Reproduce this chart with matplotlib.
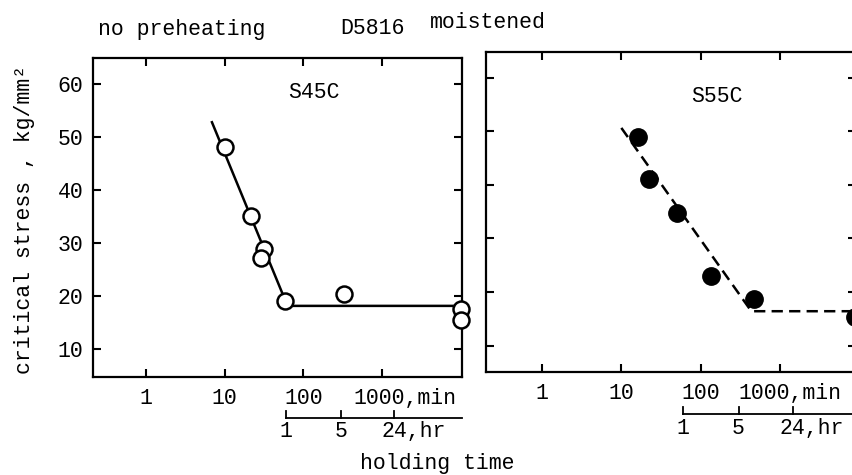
import matplotlib
matplotlib.use("Agg")
import matplotlib.pyplot as plt
from matplotlib.transforms import ScaledTranslation, blended_transform_factory

plt.rcParams['font.family'] = ['Liberation Mono', 'DejaVu Sans Mono']
plt.rcParams['font.size'] = 15.5

# S45C, open circles (holding time in min, stress kg/mm2)
s45_min = [10, 21.5, 32, 29, 58, 330, 10000, 10000]
s45_stress = [48.1, 35.1, 28.9, 27.2, 19.1, 20.4, 17.6, 15.5]
s45_fit_min = [6.9, 63, 7900]
s45_fit_stress = [52.8, 18.2, 18.2]

# S55C, filled circles
s55_min = [16.3, 22, 51, 134, 470, 8900]
s55_stress = [48.9, 41.1, 34.7, 23.0, 18.7, 15.3]
s55_fit_min = [10, 435, 8300]
s55_fit_stress = [50.6, 16.4, 16.4]

min_ticks = [1, 10, 100, 1000]
min_labels = ['1', '10', '100', '1000,min']
hr_ticks = [60, 300, 1440]          # 1, 5, 24 hr in min
hr_labels = ['1', '5', '24,hr']
y_ticks = [10, 20, 30, 40, 50, 60]

fig = plt.figure(figsize=(8.52, 4.75), dpi=100)

ax1 = fig.add_axes([93/852, 98/475, 369/852, 319/475])
ax2 = fig.add_axes([486/852, 103/475, 370/852, 320/475])


def setup(ax, xlim, ylim, hr_y, hr_text_y, show_y, min_shift):
    ax.set_xscale('log')
    ax.set_xlim(*xlim)
    ax.set_ylim(*ylim)
    ax.set_xticks(min_ticks)
    ax.set_xticklabels(min_labels)
    ax.xaxis.set_minor_locator(matplotlib.ticker.NullLocator())
    ax.set_yticks(y_ticks)
    if not show_y:
        ax.set_yticklabels([])
    ax.tick_params(direction='in', length=5.5, width=1.5, top=True, right=True,
                   labelsize=15.5)
    ax.tick_params(axis='x', pad=8)
    ax.tick_params(axis='y', pad=7)
    for s in ax.spines.values():
        s.set_linewidth(1.6)
    # "1000,min": number sits roughly on its tick
    lab = ax.get_xticklabels()[-1]
    lab.set_horizontalalignment('left')
    lab.set_transform(lab.get_transform() + ScaledTranslation(-min_shift/100, 0, fig.dpi_scale_trans))

    # hour scale under the minute scale
    tr = blended_transform_factory(ax.transData, ax.transAxes)
    ax.plot([hr_ticks[0], xlim[1]], [hr_y, hr_y], color='k', lw=1.3,
            transform=tr, clip_on=False)
    for t, l in zip(hr_ticks, hr_labels):
        ax.plot([t, t], [hr_y, hr_y + 0.022], color='k', lw=1.3,
                transform=tr, clip_on=False)
        if l == '24,hr':
            ax.text(t, hr_text_y, l, ha='left', va='center',
                    transform=tr + ScaledTranslation(-13/100, 0, fig.dpi_scale_trans))
        else:
            ax.text(t, hr_text_y, l, ha='center', va='center', transform=tr)


setup(ax1, (10**-0.673, 10**4.017), (4.8, 64.9), -0.1285, -0.1724, True, 29)
setup(ax2, (10**-0.706, 10**3.958), (5.06, 64.76), -0.131, -0.175, False, 42)

ax1.plot(s45_fit_min, s45_fit_stress, color='k', lw=1.8, zorder=2)
ax1.plot(s45_min, s45_stress, 'o', ms=11.5, mfc='white', mec='k', mew=1.8,
         clip_on=False, zorder=3)
ax1.text(314/852, 1 - 93/475, 'S45C', transform=fig.transFigure,
         ha='center', va='center')

ax2.plot(s55_fit_min, s55_fit_stress, color='k', lw=1.8, ls=(0, (4.5, 2.5)), zorder=2)
ax2.plot(s55_min, s55_stress, 'o', ms=12.5, mfc='k', mec='k',
         clip_on=False, zorder=3)
ax2.text(717/852, 1 - 96/475, 'S55C', transform=fig.transFigure,
         ha='center', va='center')

fig.text(98/852, 1 - 30/475, 'no preheating', ha='left', va='center')
fig.text(340/852, 1 - 29/475, 'D5816', ha='left', va='center')
fig.text(430/852, 1 - 22/475, 'moistened', ha='left', va='center')
fig.text(25/852, 1 - 220/475, 'critical stress , kg/mm\u00b2', rotation=90,
         ha='center', va='center')
fig.text(437/852, 1 - 463/475, 'holding time', ha='center', va='center')

fig.savefig('out.png', dpi=100)
